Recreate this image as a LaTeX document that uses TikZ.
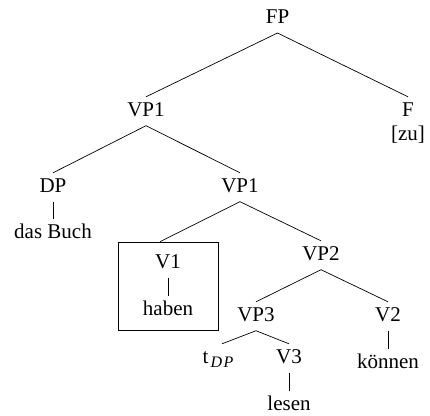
\documentclass[tikz,border=0pt]{standalone}
\usepackage{fontspec}
\setmainfont{Liberation Serif}
\begin{document}
\begin{tikzpicture}[x=1pt,y=-1pt,
  lbl/.style={font=\fontsize{21}{24}\selectfont, text height=13.5pt, text depth=4pt,
    inner xsep=2pt, inner ysep=5.5pt, anchor=base},
  edge/.style={line width=0.7pt},
  boxst/.style={draw, line width=0.7pt, minimum width=100pt, minimum height=88pt,
    anchor=center, inner sep=0pt}]
\useasboundingbox (0,0) rectangle (430,415);
\node[lbl] (fp) at (277.5,23.3) {FP};
\node[lbl] (vp1) at (146,116) {VP1};
\node[lbl] (f) at (408,116) {F};
\node[lbl] (zu) at (408,140) {[zu]};
\node[lbl] (dp) at (53,192) {DP};
\node[lbl] (vp1b) at (240,192) {VP1};
\node[lbl] (buch) at (53,238) {das Buch};
\node[boxst] (box) at (168,286) {};
\node[lbl] (v1) at (168,268) {V1};
\node[lbl] (haben) at (168,315) {haben};
\node[lbl] (vp2) at (321,260) {VP2};
\node[lbl] (vp3) at (256,321) {VP3};
\node[lbl] (v2) at (388,321) {V2};
\node[lbl] (t) at (218,363) {t\kern2pt\raisebox{-4pt}{\fontsize{16}{16}\selectfont\itshape D\kern1.5pt P}};
\node[lbl] (v3) at (289,363) {V3};
\node[lbl] (koennen) at (388,368) {können};
\node[lbl] (lesen) at (289,410) {lesen};
\draw[edge] (fp.south) -- (vp1.north);
\draw[edge] (fp.south) -- (f.north);
\draw[edge] (vp1.south) -- (dp.north);
\draw[edge] (vp1.south) -- (vp1b.north);
\draw[edge] (dp.south) -- (buch.north);
\draw[edge] (vp1b.south) -- ([xshift=-8pt]box.north);
\draw[edge] (vp1b.south) -- (vp2.north);
\draw[edge] (v1.south) -- (haben.north);
\draw[edge] (vp2.south) -- (vp3.north);
\draw[edge] (vp2.south) -- (v2.north);
\draw[edge] (vp3.south) -- ([xshift=4pt]t.north);
\draw[edge] (vp3.south) -- (v3.north);
\draw[edge] (v2.south) -- (koennen.north);
\draw[edge] (v3.south) -- (lesen.north);
\end{tikzpicture}
\end{document}
